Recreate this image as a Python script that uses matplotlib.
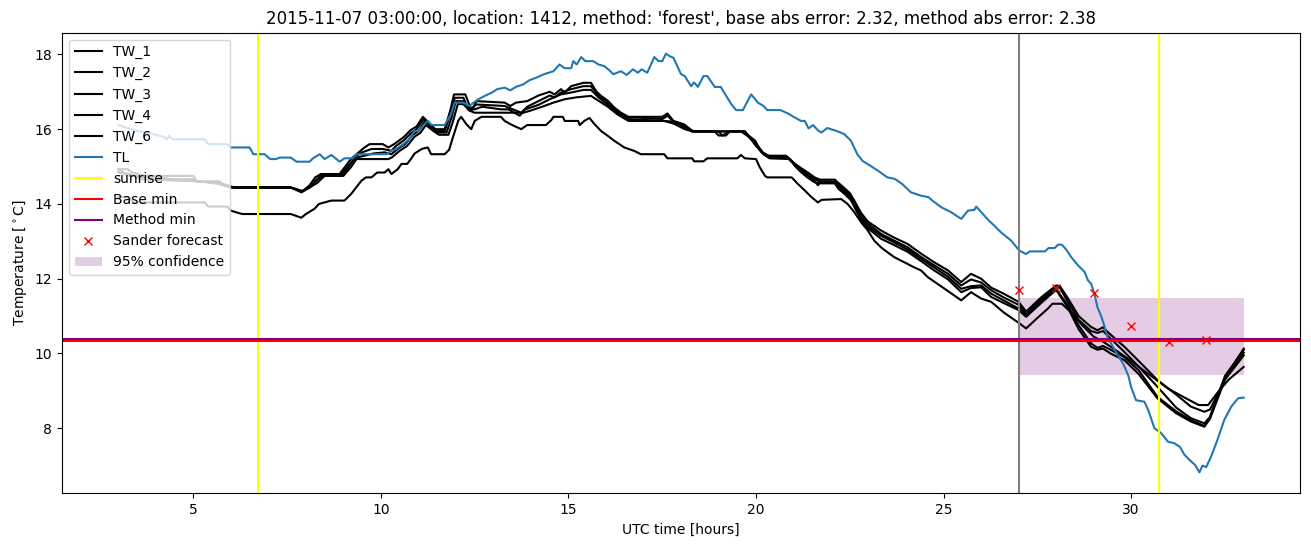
import matplotlib
matplotlib.use("Agg")
import matplotlib.pyplot as plt

# ---------------- data ----------------
tl_t = [3.0, 3.2, 3.5, 3.8, 4.2, 4.3, 4.35, 4.45, 5.3, 5.4, 5.9, 6.0, 6.5, 6.6, 6.9, 7.05, 7.2, 7.3, 7.6,
        7.75, 8.1, 8.19, 8.37, 8.5, 8.68, 8.9, 9.03, 9.25, 9.35, 10.15, 10.28, 10.4, 10.6, 10.75, 10.9, 11.0,
        11.16, 11.25, 11.35, 11.7, 11.87, 11.97, 12.2, 12.36, 12.5, 12.6, 12.77, 12.96, 13.1, 13.3, 13.45,
        13.6, 13.8, 13.96, 14.15, 14.35, 14.6, 14.76, 14.9, 15.07, 15.13, 15.22, 15.34, 15.45, 15.66, 15.8,
        15.95, 16.06, 16.2, 16.4, 16.55, 16.72, 16.85, 16.95, 17.1, 17.29, 17.4, 17.5, 17.6, 17.7, 17.8,
        18.0, 18.1, 18.27, 18.35, 18.45, 18.6, 18.7, 18.9, 19.06, 19.15, 19.34, 19.47, 19.65, 19.87, 20.05,
        20.2, 20.3, 20.65, 20.85, 21.0, 21.2, 21.3, 21.4, 21.52, 21.65, 21.74, 21.9, 22.15, 22.35, 22.53,
        22.7, 22.84, 23.05, 23.25, 23.5, 23.7, 23.9, 24.13, 24.4, 24.6, 24.7, 24.94, 25.2, 25.47, 25.65,
        25.82, 25.87, 26.05, 26.2, 26.35, 26.53, 26.8, 27.02, 27.2, 27.3, 27.7, 27.8, 27.96, 28.05, 28.15,
        28.27, 28.4, 28.58, 28.76, 28.85, 28.93, 29.02, 29.1, 29.2, 29.28, 29.37, 29.5, 29.65, 29.8, 29.92,
        30.0, 30.13, 30.35, 30.45, 30.62, 30.8, 30.98, 31.15, 31.3, 31.42, 31.6, 31.7, 31.82, 31.9, 32.0,
        32.13, 32.3, 32.48, 32.67, 32.85, 33.0]
tl_v = [16.11, 16.04, 15.95, 15.9, 15.8, 15.73, 15.82, 15.73, 15.73, 15.6, 15.6, 15.51, 15.51, 15.33, 15.33,
        15.2, 15.2, 15.24, 15.24, 15.13, 15.13, 15.22, 15.33, 15.2, 15.31, 15.13, 15.22, 15.22, 15.33, 15.33,
        15.42, 15.47, 15.6, 15.73, 15.95, 15.95, 16.13, 16.22, 16.11, 16.11, 16.4, 16.71, 16.71, 16.62,
        16.73, 16.8, 16.89, 16.98, 17.07, 17.11, 17.04, 17.13, 17.2, 17.31, 17.38, 17.47, 17.55, 17.73,
        17.63, 17.63, 17.82, 17.73, 17.93, 17.82, 17.82, 17.73, 17.69, 17.6, 17.47, 17.55, 17.45, 17.6,
        17.51, 17.6, 17.51, 17.93, 17.82, 17.82, 18.02, 17.95, 17.91, 17.47, 17.42, 17.15, 17.25, 17.13,
        17.42, 17.42, 17.13, 17.13, 16.98, 16.67, 16.51, 16.51, 16.93, 16.71, 16.62, 16.51, 16.51, 16.42,
        16.33, 16.22, 16.22, 16.02, 16.11, 15.97, 15.91, 16.03, 15.95, 15.87, 15.69, 15.33, 15.15, 15.02,
        14.89, 14.71, 14.67, 14.53, 14.31, 14.22, 14.18, 14.09, 13.91, 13.78, 13.6, 13.82, 13.84, 13.93,
        13.73, 13.56, 13.42, 13.24, 13.02, 12.75, 12.66, 12.73, 12.73, 12.82, 12.82, 12.91, 12.91, 12.78,
        12.58, 12.36, 12.18, 11.95, 11.87, 11.6, 11.24, 11.0, 10.75, 10.44, 10.2, 9.95, 9.7, 9.42, 9.1,
        8.75, 8.71, 8.5, 8.0, 7.87, 7.64, 7.6, 7.5, 7.29, 7.11, 7.02, 6.82, 7.0, 6.96, 7.24, 7.69, 8.22,
        8.58, 8.8, 8.82]

tw1_t = [3.0, 3.25, 3.35, 3.7, 5.0, 5.1, 5.65, 5.75, 6.0, 7.6, 7.9, 8.1, 8.25, 8.4, 8.9, 9.05, 9.2, 9.35,
         9.55, 9.7, 10.05, 10.2, 10.35, 10.6, 10.8, 10.95, 11.12, 11.3, 11.45, 11.7, 11.85, 11.95, 12.25,
         12.37, 12.42, 12.55, 13.3, 13.45, 13.6, 13.9, 14.2, 14.5, 14.63, 14.8, 14.9, 15.07, 15.4, 15.6,
         15.75, 15.87, 16.05, 16.22, 16.4, 16.6, 17.5, 17.64, 17.8, 18.08, 18.27, 18.35, 19.7, 19.8, 19.98,
         20.1, 20.2, 20.35, 20.8, 21.0, 21.2, 21.38, 21.56, 21.7, 22.1, 22.2, 22.36, 22.5, 22.63, 22.8,
         22.98, 23.33, 23.68, 24.04, 24.4, 24.75, 25.12, 25.47, 25.73, 26.0, 26.27, 26.6, 27.0, 27.2, 27.6,
         28.0, 28.1, 28.3, 28.6, 28.93, 29.1, 29.25, 29.4, 29.82, 30.2, 30.7, 31.2, 31.59, 31.95, 32.1,
         32.5, 33.0]
tw1_v = [14.93, 14.93, 14.85, 14.75, 14.75, 14.6, 14.6, 14.53, 14.44, 14.44, 14.33, 14.5, 14.71, 14.8, 14.8,
         15.0, 15.2, 15.33, 15.5, 15.6, 15.6, 15.51, 15.6, 15.78, 15.98, 16.07, 16.33, 16.15, 16.0, 16.0,
         16.5, 16.93, 16.93, 16.62, 16.49, 16.75, 16.71, 16.62, 16.71, 16.75, 16.9, 17.0, 16.93, 17.07,
         16.98, 17.15, 17.24, 17.24, 17.0, 16.89, 16.76, 16.58, 16.44, 16.33, 16.33, 16.42, 16.22, 16.13,
         15.98, 15.94, 15.94, 15.83, 15.69, 15.45, 15.33, 15.29, 15.29, 15.1, 14.96, 14.84, 14.71, 14.65,
         14.65, 14.56, 14.42, 14.29, 14.07, 13.76, 13.53, 13.29, 13.1, 12.93, 12.67, 12.44, 12.22, 11.91,
         12.13, 12.0, 11.76, 11.6, 11.38, 11.12, 11.5, 11.82, 11.8, 11.5, 11.0, 10.71, 10.62, 10.7, 10.55,
         10.18, 9.8, 9.29, 8.9, 8.58, 8.44, 8.5, 9.3, 10.02]

tw2_t = [3.0, 3.4, 4.2, 5.0, 5.1, 5.7, 5.8, 6.05, 7.6, 7.9, 8.1, 8.25, 8.4, 8.9, 9.05, 9.2, 9.35, 9.5, 9.75,
         10.05, 10.28, 10.4, 10.6, 10.8, 10.95, 11.14, 11.3, 11.5, 11.7, 11.85, 11.97, 12.2, 12.3, 12.4,
         12.55, 13.3, 13.74, 13.9, 14.2, 14.5, 14.63, 14.8, 15.07, 15.4, 15.6, 15.8, 16.05, 16.22, 16.5,
         17.5, 17.64, 17.8, 18.1, 18.3, 19.0, 19.1, 19.3, 19.7, 19.8, 20.0, 20.15, 20.3, 20.85, 21.03, 21.2,
         21.38, 21.56, 21.7, 22.1, 22.2, 22.36, 22.53, 22.63, 22.8, 22.98, 23.33, 23.68, 24.04, 24.4, 24.75,
         25.12, 25.47, 25.73, 26.0, 26.27, 26.6, 27.0, 27.2, 27.6, 28.0, 28.1, 28.3, 28.6, 28.93, 29.1,
         29.25, 29.4, 29.82, 30.2, 30.7, 31.2, 31.59, 31.95, 32.1, 32.5, 33.0]
tw2_v = [14.85, 14.75, 14.66, 14.66, 14.6, 14.6, 14.53, 14.44, 14.44, 14.35, 14.44, 14.62, 14.75, 14.75,
         14.93, 15.1, 15.29, 15.38, 15.47, 15.47, 15.42, 15.55, 15.69, 15.89, 16.0, 16.27, 16.11, 15.95,
         15.95, 16.4, 16.84, 16.84, 16.6, 16.55, 16.66, 16.62, 16.44, 16.6, 16.75, 16.9, 16.85, 16.98,
         17.07, 17.15, 17.15, 16.9, 16.7, 16.53, 16.33, 16.27, 16.36, 16.2, 16.1, 15.94, 15.94, 15.83,
         15.94, 15.94, 15.8, 15.6, 15.38, 15.27, 15.25, 15.07, 14.93, 14.8, 14.67, 14.6, 14.6, 14.5, 14.36,
         14.22, 14.0, 13.69, 13.47, 13.2, 13.02, 12.84, 12.58, 12.36, 12.13, 11.82, 11.98, 11.9, 11.69,
         11.5, 11.3, 11.05, 11.45, 11.76, 11.76, 11.4, 10.9, 10.6, 10.55, 10.6, 10.45, 10.04, 9.65, 9.11,
         8.55, 8.27, 8.13, 8.3, 9.35, 10.13]

tw3_t = [3.0, 3.3, 4.0, 4.4, 5.2, 5.8, 6.1, 7.6, 7.88, 8.1, 8.25, 8.45, 8.95, 9.1, 9.25, 9.4, 9.8, 10.1,
         10.28, 10.45, 10.65, 10.85, 11.0, 11.16, 11.35, 11.5, 11.75, 11.88, 12.0, 12.2, 12.35, 12.5, 12.7,
         13.2, 13.4, 13.7, 13.85, 14.2, 14.5, 14.8, 15.07, 15.4, 15.6, 15.8, 16.05, 16.3, 16.6, 17.55, 17.8,
         18.1, 18.3, 19.6, 19.8, 20.0, 20.18, 20.36, 20.85, 21.03, 21.2, 21.38, 21.56, 21.65, 21.75, 22.1,
         22.2, 22.36, 22.53, 22.63, 22.8, 22.98, 23.33, 23.68, 24.04, 24.4, 24.75, 25.12, 25.47, 25.73,
         26.0, 26.27, 26.6, 27.0, 27.2, 27.6, 28.0, 28.3, 28.6, 28.93, 29.1, 29.25, 29.45, 29.82, 30.2,
         30.7, 31.2, 31.59, 31.95, 32.1, 32.5, 33.0]
tw3_v = [14.93, 14.75, 14.75, 14.66, 14.6, 14.53, 14.44, 14.44, 14.31, 14.44, 14.6, 14.75, 14.75, 14.93,
         15.15, 15.25, 15.35, 15.38, 15.33, 15.47, 15.6, 15.85, 15.95, 16.2, 16.05, 15.91, 15.91, 16.3,
         16.75, 16.75, 16.55, 16.53, 16.6, 16.53, 16.53, 16.36, 16.53, 16.65, 16.8, 16.93, 16.98, 17.05,
         17.05, 16.85, 16.65, 16.45, 16.27, 16.22, 16.2, 16.05, 15.94, 15.94, 15.8, 15.62, 15.38, 15.27,
         15.22, 15.05, 14.9, 14.75, 14.62, 14.5, 14.6, 14.58, 14.45, 14.31, 14.16, 13.95, 13.64, 13.4,
         13.15, 12.97, 12.78, 12.53, 12.3, 12.05, 11.73, 11.8, 11.82, 11.6, 11.42, 11.2, 11.0, 11.4, 11.72,
         11.3, 10.75, 10.27, 10.15, 10.2, 10.1, 9.9, 9.55, 8.84, 8.45, 8.22, 8.06, 8.3, 9.4, 10.09]

tw4_t = [3.0, 3.3, 3.6, 5.2, 5.7, 6.0, 7.6, 7.9, 8.1, 8.3, 8.5, 9.0, 9.2, 9.35, 10.2, 10.3, 10.5, 10.7, 10.9,
         11.05, 11.2, 11.4, 11.55, 11.8, 11.92, 12.05, 12.2, 12.35, 12.5, 13.8, 14.0, 14.3, 14.6, 14.9,
         15.2, 15.6, 15.8, 16.05, 16.3, 16.6, 17.55, 17.8, 18.1, 18.3, 18.9, 19.0, 19.2, 19.3, 19.7, 19.85,
         20.0, 20.2, 20.36, 20.9, 21.05, 21.2, 21.38, 21.56, 21.75, 22.1, 22.2, 22.36, 22.53, 22.63, 22.8,
         22.98, 23.33, 23.68, 24.04, 24.4, 24.75, 25.12, 25.47, 25.73, 26.0, 26.27, 26.6, 27.0, 27.2, 27.6,
         28.0, 28.3, 28.6, 28.93, 29.1, 29.25, 29.45, 29.82, 30.2, 30.7, 31.2, 31.59, 31.95, 32.1, 32.5,
         33.0]
tw4_v = [14.85, 14.8, 14.66, 14.6, 14.53, 14.44, 14.44, 14.33, 14.44, 14.56, 14.75, 14.75, 14.98, 15.2,
         15.2, 15.25, 15.42, 15.55, 15.8, 15.9, 16.11, 15.95, 15.85, 15.85, 16.2, 16.67, 16.67, 16.5, 16.44,
         16.44, 16.5, 16.6, 16.71, 16.8, 16.85, 16.89, 16.76, 16.6, 16.4, 16.22, 16.22, 16.15, 16.0, 15.94,
         15.94, 15.83, 15.83, 15.94, 15.94, 15.75, 15.55, 15.33, 15.22, 15.2, 15.0, 14.85, 14.7, 14.58,
         14.55, 14.55, 14.4, 14.27, 14.1, 13.9, 13.58, 13.35, 13.07, 12.9, 12.72, 12.47, 12.22, 11.98,
         11.64, 11.75, 11.77, 11.51, 11.35, 11.16, 10.98, 11.35, 11.7, 11.25, 10.65, 10.18, 10.1, 10.13,
         10.0, 9.82, 9.45, 8.8, 8.4, 8.18, 8.04, 8.25, 9.3, 9.95]

tw6_t = [3.0, 3.3, 3.4, 5.3, 5.4, 5.9, 6.0, 6.3, 7.6, 7.88, 8.0, 8.23, 8.35, 8.68, 9.03, 9.21, 9.48, 9.6,
         9.75, 9.9, 10.1, 10.2, 10.28, 10.45, 10.55, 10.7, 10.8, 10.9, 11.09, 11.16, 11.25, 11.34, 11.7,
         11.82, 11.92, 12.06, 12.14, 12.28, 12.41, 12.5, 12.68, 13.2, 13.3, 13.5, 13.74, 13.9, 14.4, 14.54,
         14.6, 14.85, 14.9, 15.26, 15.3, 15.42, 15.56, 15.68, 15.87, 16.05, 16.22, 16.49, 16.75, 16.93,
         17.55, 17.64, 18.3, 18.35, 18.6, 18.7, 19.5, 19.6, 19.7, 20.0, 20.1, 20.24, 20.3, 20.95, 21.12,
         21.3, 21.48, 21.65, 21.75, 22.27, 22.44, 22.62, 22.8, 22.98, 23.15, 23.33, 23.5, 23.68, 23.85,
         24.03, 24.2, 24.4, 24.58, 25.0, 25.47, 25.73, 26.0, 26.27, 26.6, 27.0, 27.2, 27.5, 27.78, 27.9,
         28.15, 28.4, 28.7, 29.0, 29.2, 29.5, 30.0, 30.5, 31.0, 31.5, 31.8, 32.05, 32.3, 32.6, 33.0]
tw6_v = [14.18, 14.18, 14.04, 14.04, 13.93, 13.93, 13.82, 13.73, 13.73, 13.63, 13.73, 13.87, 14.0, 14.09,
         14.09, 14.27, 14.62, 14.71, 14.71, 14.84, 14.84, 14.93, 14.8, 14.93, 15.07, 15.07, 15.2, 15.35,
         15.47, 15.49, 15.51, 15.33, 15.33, 15.45, 15.78, 16.22, 16.33, 16.13, 16.0, 16.22, 16.33, 16.33,
         16.22, 16.11, 16.0, 16.11, 16.11, 16.24, 16.33, 16.33, 16.22, 16.22, 16.11, 16.22, 16.3, 16.15,
         15.95, 15.82, 15.69, 15.51, 15.42, 15.33, 15.33, 15.22, 15.22, 15.14, 15.14, 15.22, 15.22, 15.31,
         15.22, 15.2, 14.98, 14.75, 14.71, 14.71, 14.53, 14.36, 14.18, 14.04, 14.11, 14.13, 14.0, 13.78,
         13.51, 13.29, 13.02, 12.84, 12.71, 12.58, 12.49, 12.4, 12.31, 12.22, 12.04, 11.75, 11.42, 11.64,
         11.47, 11.38, 11.1, 10.82, 10.67, 10.95, 11.2, 11.33, 11.33, 11.1, 10.75, 10.45, 10.35, 10.15, 9.8,
         9.42, 9.05, 8.78, 8.62, 8.62, 8.95, 9.3, 9.64]

tw_names = ["TW_1", "TW_2", "TW_3", "TW_4", "TW_6"]

sunrise_hours = [6.73, 30.75]
forecast_start = 27.0
base_min = 10.345
method_min = 10.385
sander_t = [27, 28, 29, 30, 31, 32]
sander_v = [11.71, 11.76, 11.63, 10.73, 10.32, 10.37]
conf_t = [27.0, 33.0]
conf_low = 9.43
conf_high = 11.49

title = ("2015-11-07 03:00:00, location: 1412, method: 'forest', "
         "base abs error: 2.32, method abs error: 2.38")

# ---------------- plot ----------------
fig = plt.figure(figsize=(13.11, 5.47), dpi=100)
ax = fig.add_axes([0.0473, 0.0982, 0.9443, 0.842])

tw_series = [(tw1_t, tw1_v), (tw2_t, tw2_v), (tw3_t, tw3_v), (tw4_t, tw4_v), (tw6_t, tw6_v)]
for name, (t, v) in zip(tw_names, tw_series):
    ax.plot(t, v, color="black", label=name)
ax.plot(tl_t, tl_v, color="#1f77b4", label="TL")
ax.axvline(sunrise_hours[0], color="yellow", label="sunrise")
ax.axvline(sunrise_hours[1], color="yellow")
ax.axvline(forecast_start, color="grey")
ax.axhline(base_min, color="red", label="Base min")
ax.axhline(method_min, color="purple", label="Method min")
ax.plot(sander_t, sander_v, "x", color="red", linestyle="none", label="Sander forecast")
ax.fill_between(conf_t, conf_low, conf_high, color="purple", alpha=0.2, linewidth=0,
                label="95% confidence")

ax.set_title(title)
ax.set_xlabel("UTC time [hours]")
ax.set_ylabel(r"Temperature [$^\circ$C]")
ax.legend(loc="upper left")

fig.savefig("out.png", dpi=100)
